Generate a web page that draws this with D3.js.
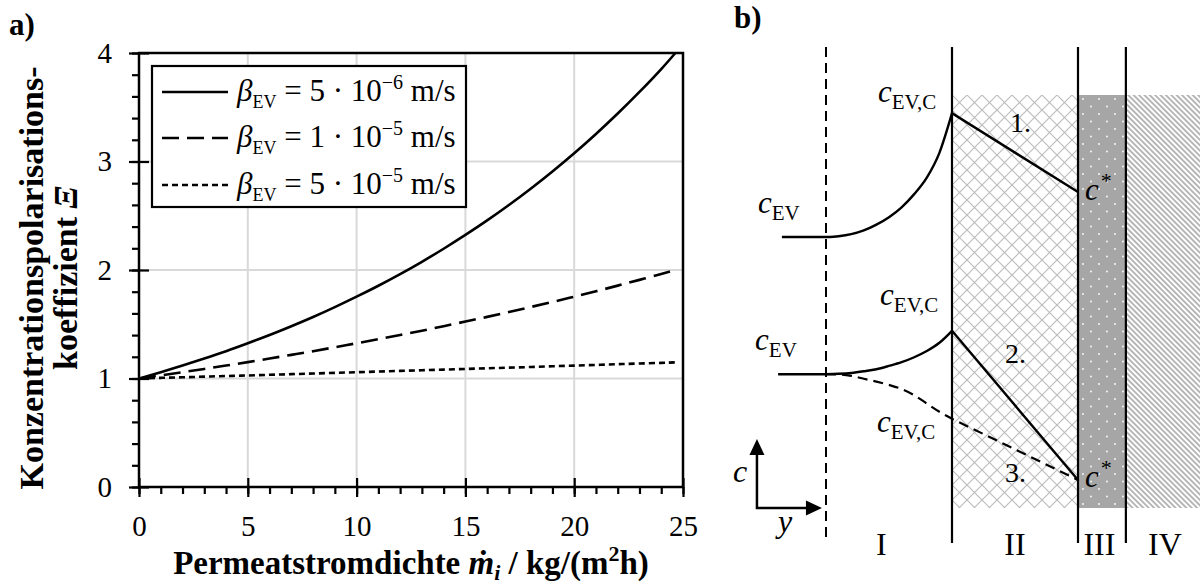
<!DOCTYPE html>
<html>
<head>
<meta charset="utf-8">
<script src="https://cdn.jsdelivr.net/npm/d3@7"></script>
<style>
  body { margin: 0; background: #fff; }
  svg { display: block; }
  text { font-family: "Liberation Serif", "Times New Roman", serif; fill: #000; }
</style>
</head>
<body>
<svg id="chart" width="1200" height="588"></svg>
<script>
// ---------- Panel a: concentration polarisation coefficient vs. permeate flux ----------
const flux = [0, 1, 2, 3, 4, 5, 6, 7, 8, 9, 10, 11, 12, 13, 14, 15, 16, 17, 18, 19, 20, 21, 22, 23, 24, 24.65];
const xiBeta5e6 = [1.000, 1.058, 1.119, 1.184, 1.252, 1.325, 1.401, 1.482, 1.567, 1.658, 1.754, 1.855, 1.962, 2.076, 2.196, 2.323, 2.457, 2.599, 2.749, 2.908, 3.076, 3.254, 3.442, 3.641, 3.852, 4.000];
const xiBeta1e5 = [1.000, 1.029, 1.058, 1.088, 1.119, 1.151, 1.184, 1.218, 1.252, 1.288, 1.325, 1.362, 1.401, 1.441, 1.482, 1.525, 1.568, 1.613, 1.659, 1.706, 1.754, 1.804, 1.856, 1.909, 1.963, 2.000];
const xiBeta5e5 = [1.000, 1.006, 1.011, 1.017, 1.023, 1.028, 1.034, 1.040, 1.046, 1.052, 1.058, 1.064, 1.070, 1.076, 1.082, 1.088, 1.094, 1.100, 1.106, 1.113, 1.119, 1.125, 1.132, 1.138, 1.144, 1.149];

const seriesNames = ["5 · 10", "1 · 10", "5 · 10"];
const seriesExponents = ["−6", "−5", "−5"];
const seriesDash = [null, "17,8", "6,4"];

const xMajorTicks = [0, 5, 10, 15, 20, 25];
const xMinorTicks = d3.range(0, 26, 1);
const yMajorTicks = [0, 1, 2, 3, 4];
const yMinorTicks = d3.range(0, 4.01, 0.2).map(v => +v.toFixed(1));

const svg = d3.select("#chart");

const plot = { left: 139, right: 683, top: 53, bottom: 487 };
const x = d3.scaleLinear().domain([0, 25]).range([plot.left, plot.right]);
const y = d3.scaleLinear().domain([0, 4]).range([plot.bottom, plot.top]);

// panel label
svg.append("text").attr("x", 9).attr("y", 35)
  .style("font-size", "31px").style("font-weight", "bold").text("a)");

// grid
const grid = svg.append("g").attr("stroke", "#d9d9d9").attr("stroke-width", 2);
grid.selectAll("line.gx").data(xMajorTicks.filter(v => v > 0 && v < 25)).join("line")
  .attr("x1", d => x(d)).attr("x2", d => x(d)).attr("y1", plot.top).attr("y2", plot.bottom);
grid.selectAll("line.gy").data(yMajorTicks.filter(v => v > 0 && v < 4)).join("line")
  .attr("x1", plot.left).attr("x2", plot.right).attr("y1", d => y(d)).attr("y2", d => y(d));

// axes: minor ticks outside, major ticks crossing the axis line
function styleAxis(g) {
  g.select(".domain").remove();
  g.selectAll(".tick line").attr("stroke", "#000").attr("stroke-width", 2.2);
  g.selectAll(".tick text").style("font-size", "29px").style("font-family", "'Liberation Serif', serif");
}
svg.append("g").attr("transform", `translate(0,${plot.bottom})`)
  .call(d3.axisBottom(x).tickValues(xMinorTicks).tickSize(7).tickFormat(""))
  .call(styleAxis);
svg.append("g").attr("transform", `translate(0,${plot.bottom})`)
  .call(d3.axisBottom(x).tickValues(xMajorTicks).tickSize(10).tickPadding(18).tickFormat(d3.format("d")))
  .call(styleAxis);
svg.append("g").attr("transform", `translate(0,${plot.bottom})`)
  .call(d3.axisTop(x).tickValues(xMajorTicks).tickSize(9).tickFormat(""))
  .call(styleAxis);

svg.append("g").attr("transform", `translate(${plot.left},0)`)
  .call(d3.axisLeft(y).tickValues(yMinorTicks).tickSize(7).tickFormat(""))
  .call(styleAxis);
svg.append("g").attr("transform", `translate(${plot.left},0)`)
  .call(d3.axisLeft(y).tickValues(yMajorTicks).tickSize(10).tickPadding(17).tickFormat(d3.format("d")))
  .call(styleAxis);
svg.append("g").attr("transform", `translate(${plot.left},0)`)
  .call(d3.axisRight(y).tickValues(yMajorTicks).tickSize(10).tickFormat(""))
  .call(styleAxis);

// frame
svg.append("rect").attr("x", plot.left).attr("y", plot.top)
  .attr("width", plot.right - plot.left).attr("height", plot.bottom - plot.top)
  .attr("fill", "none").attr("stroke", "#000").attr("stroke-width", 2.5);

// curves
svg.append("clipPath").attr("id", "plotClip").append("rect")
  .attr("x", plot.left).attr("y", plot.top - 1)
  .attr("width", plot.right - plot.left).attr("height", plot.bottom - plot.top + 1);
const line = d3.line().x((d, i) => x(flux[i])).y(d => y(d)).curve(d3.curveNatural);
const seriesValues = [xiBeta5e6, xiBeta1e5, xiBeta5e5];
svg.append("g").attr("clip-path", "url(#plotClip)")
  .selectAll("path").data(seriesValues).join("path")
  .attr("d", line)
  .attr("fill", "none").attr("stroke", "#000").attr("stroke-width", 2.6)
  .attr("stroke-dasharray", (d, i) => seriesDash[i]);

// legend
const legend = svg.append("g");
legend.append("rect").attr("x", 152).attr("y", 66).attr("width", 314).attr("height", 141)
  .attr("fill", "#fff").attr("stroke", "#000").attr("stroke-width", 2.2);
const rowY = [92, 138, 185];
seriesNames.forEach((name, i) => {
  legend.append("line").attr("x1", 162).attr("x2", 228).attr("y1", rowY[i]).attr("y2", rowY[i])
    .attr("stroke", "#000").attr("stroke-width", 2.6).attr("stroke-dasharray", seriesDash[i]);
  const t = legend.append("text").attr("x", 237).attr("y", rowY[i] + 9).style("font-size", "31px");
  t.append("tspan").style("font-style", "italic").text("β");
  t.append("tspan").style("font-size", "18px").attr("dy", 7).text("EV");
  t.append("tspan").attr("dy", -7).text(" = " + name);
  t.append("tspan").style("font-size", "20px").attr("dy", -12).text(seriesExponents[i]);
  t.append("tspan").attr("dy", 12).text(" m/s");
});

// axis titles
const xTitle = svg.append("text").attr("x", (plot.left + plot.right) / 2).attr("y", 574)
  .attr("text-anchor", "middle").style("font-size", "33px").style("font-weight", "bold");
xTitle.append("tspan").text("Permeatstromdichte ");
xTitle.append("tspan").style("font-style", "italic").text("ṁ");
xTitle.append("tspan").style("font-style", "italic").style("font-size", "22px").attr("dy", 6).text("i");
xTitle.append("tspan").attr("dy", -6).text(" / kg/(m");
xTitle.append("tspan").style("font-size", "22px").attr("dy", -13).text("2");
xTitle.append("tspan").attr("dy", 13).text("h)");

const yTitle = svg.append("g").attr("transform", `translate(43,${(plot.top + plot.bottom) / 2 + 8}) rotate(-90)`);
yTitle.append("text").attr("text-anchor", "middle").style("font-size", "34px").style("font-weight", "bold")
  .text("Konzentrationspolarisations-");
const yt2 = yTitle.append("text").attr("y", 34).attr("text-anchor", "middle")
  .style("font-size", "34px").style("font-weight", "bold");
yt2.append("tspan").text("koeffizient ");
yt2.append("tspan").style("font-style", "italic").text("Ξ");

// ---------- Panel b: concentration profiles across the layers ----------
// position: 0 = outer edge of the boundary layer, 1 = membrane surface
const layerEdges = [0, 1, 2, 2.38, 2.97];
const layerNames = ["I", "II", "III", "IV"];
const layerNamePos = [0.44, 1.5, 2.17, 2.69];
const profilePos = [0, 0.1, 0.2, 0.3, 0.4, 0.5, 0.6, 0.7, 0.8, 0.9, 1.0];
const profile1 = [0.656, 0.658, 0.663, 0.672, 0.686, 0.704, 0.728, 0.760, 0.800, 0.860, 0.956];
const profile2 = [0.324, 0.325, 0.327, 0.331, 0.336, 0.344, 0.353, 0.365, 0.380, 0.400, 0.429];
const profile3 = [0.324, 0.3235, 0.320, 0.313, 0.306, 0.298, 0.288, 0.273, 0.253, 0.233, 0.216];
const bulkStart = [-0.35, -0.38];
const cStar = [0.765, 0.068];

const xB = d3.scaleLinear().domain([0, 1]).range([826, 952]);
const yB = d3.scaleLinear().domain([0, 1]).range([508, 95]);

svg.append("text").attr("x", 734).attr("y", 28)
  .style("font-size", "31px").style("font-weight", "bold").text("b)");

const defs = svg.append("defs");
const hatch = defs.append("pattern").attr("id", "crossHatch").attr("patternUnits", "userSpaceOnUse")
  .attr("width", 15).attr("height", 15).attr("x", xB(1)).attr("y", yB(1));
hatch.append("path").attr("d", "M0,0L15,15M15,0L0,15")
  .attr("stroke", "#bdbdbd").attr("stroke-width", 1.2).attr("fill", "none");

const dots = defs.append("pattern").attr("id", "dots").attr("patternUnits", "userSpaceOnUse")
  .attr("width", 16).attr("height", 15).attr("x", xB(2)).attr("y", yB(1));
dots.append("rect").attr("width", 16).attr("height", 15).attr("fill", "#a6a6a6");
dots.append("circle").attr("cx", 5).attr("cy", 4).attr("r", 0.9).attr("fill", "#fff");
dots.append("circle").attr("cx", 13).attr("cy", 11.5).attr("r", 0.9).attr("fill", "#fff");

const stripes = defs.append("pattern").attr("id", "stripes").attr("patternUnits", "userSpaceOnUse")
  .attr("width", 3.8).attr("height", 3.8).attr("patternTransform", "rotate(-45)");
stripes.append("rect").attr("width", 1.9).attr("height", 3.8).attr("fill", "#b5b5b5");

const fills = ["url(#crossHatch)", "url(#dots)", "url(#stripes)"];
svg.append("g").selectAll("rect").data(fills).join("rect")
  .attr("x", (d, i) => xB(layerEdges[i + 1]))
  .attr("width", (d, i) => xB(layerEdges[i + 2]) - xB(layerEdges[i + 1]))
  .attr("y", yB(1)).attr("height", yB(0) - yB(1))
  .attr("fill", d => d);

// layer boundaries
svg.append("line").attr("x1", xB(0)).attr("x2", xB(0)).attr("y1", yB(1.116)).attr("y2", yB(-0.085))
  .attr("stroke", "#000").attr("stroke-width", 2).attr("stroke-dasharray", "10,6");
svg.append("g").selectAll("line").data(layerEdges.slice(1, 4)).join("line")
  .attr("x1", d => xB(d)).attr("x2", d => xB(d)).attr("y1", yB(1.116)).attr("y2", yB(-0.085))
  .attr("stroke", "#000").attr("stroke-width", 2.2);

// profiles
const curveGen = d3.line().x(d => xB(d[0])).y(d => yB(d[1])).curve(d3.curveMonotoneX);
function profilePath(prof, start, end) {
  const pts = profilePos.map((p, i) => [p, prof[i]]);
  let d = curveGen(pts);
  if (start !== null) d = `M${xB(start)},${yB(prof[0])}L` + d.slice(1);
  return d + `L${xB(2)},${yB(end)}`;
}
const prof = svg.append("g").attr("fill", "none").attr("stroke", "#000").attr("stroke-width", 2.4);
prof.append("path").attr("d", profilePath(profile3, null, cStar[1])).attr("stroke-dasharray", "10,6").attr("stroke-width", 2.2);
prof.append("path").attr("d", profilePath(profile1, bulkStart[0], cStar[0]));
prof.append("path").attr("d", profilePath(profile2, bulkStart[1], cStar[1]));

// profile labels
function conc(px, c, sub, sup) {
  const t = svg.append("text").attr("x", xB(px)).attr("y", yB(c)).style("font-size", "31px");
  t.append("tspan").style("font-style", "italic").text("c");
  if (sub) t.append("tspan").style("font-size", "21px").attr("dy", 7).text(sub);
  if (sup) t.append("tspan").style("font-size", "22px").attr("dx", 2).attr("dy", -12).text(sup);
}
const concLabels = [
  { p: -0.54, c: 0.714, sub: "EV" },
  { p: 0.413, c: 0.983, sub: "EV,C" },
  { p: 2.056, c: 0.746, sup: "*" },
  { p: 0.429, c: 0.492, sub: "EV,C" },
  { p: -0.563, c: 0.383, sub: "EV" },
  { p: 0.405, c: 0.184, sub: "EV,C" },
  { p: 2.056, c: 0.051, sup: "*" }
];
concLabels.forEach(l => conc(l.p, l.c, l.sub, l.sup));

const caseLabels = [
  { p: 1.46, c: 0.910, t: "1." },
  { p: 1.42, c: 0.351, t: "2." },
  { p: 1.42, c: 0.063, t: "3." }
];
svg.append("g").selectAll("text").data(caseLabels).join("text")
  .attr("x", d => xB(d.p)).attr("y", d => yB(d.c)).style("font-size", "28px").text(d => d.t);

svg.append("g").selectAll("text").data(layerNames).join("text")
  .attr("x", (d, i) => xB(layerNamePos[i])).attr("y", yB(-0.114))
  .attr("text-anchor", "middle").style("font-size", "32px").text(d => d);

// coordinate glyph (c upward, y to the right)
const ox = xB(-0.548), oy = yB(0), tipY = yB(0.167), tipX = xB(-0.032);
svg.append("path").attr("d", `M${ox},${tipY + 14}V${oy}H${tipX - 14}`)
  .attr("fill", "none").attr("stroke", "#000").attr("stroke-width", 2.5);
svg.append("path").attr("d", `M${ox},${tipY}L${ox - 7.5},${tipY + 16}L${ox + 7.5},${tipY + 16}Z`).attr("fill", "#000");
svg.append("path").attr("d", `M${tipX},${oy}L${tipX - 16},${oy - 7.5}L${tipX - 16},${oy + 7.5}Z`).attr("fill", "#000");
svg.append("text").attr("x", xB(-0.738)).attr("y", yB(0.063)).style("font-size", "32px").style("font-style", "italic").text("c");
svg.append("text").attr("x", xB(-0.381)).attr("y", yB(-0.058)).style("font-size", "32px").style("font-style", "italic").text("y");
</script>
</body>
</html>
